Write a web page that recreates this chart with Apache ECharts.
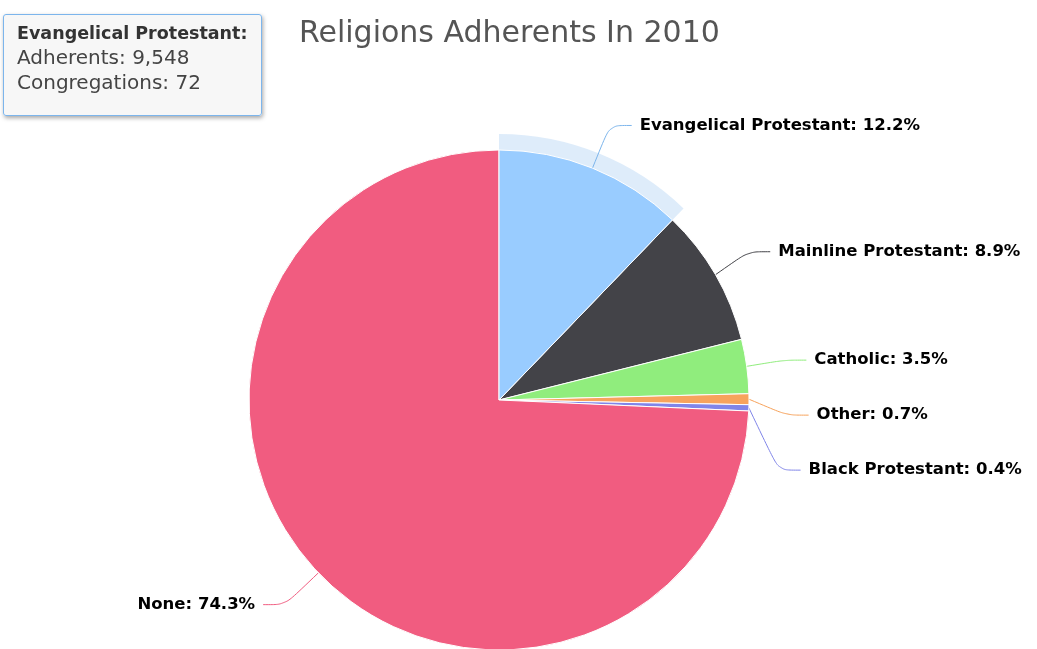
<!DOCTYPE html>
<html>
<head>
<meta charset="utf-8">
<title>Religions Adherents In 2010</title>
<script src="https://cdn.jsdelivr.net/npm/echarts@6/dist/echarts.min.js"></script>
<style>
  html, body { margin: 0; padding: 0; background: #ffffff; }
  #chart { width: 1037px; height: 649px; }
</style>
</head>
<body>
<div id="chart"></div>
<script>
// Share of adherents by religious tradition, 2010 (percent)
const categories = ['Evangelical Protestant', 'Mainline Protestant', 'Catholic', 'Other', 'Black Protestant', 'None'];
const shares = [12.2, 8.9, 3.5, 0.7, 0.4, 74.3];
const adherents = [9548, null, null, null, null, null];
const congregations = [72, null, null, null, null, null];
const colors = ['#7cb5ec', '#434348', '#90ed7d', '#f7a35c', '#8085e9', '#f15c80'];
const hoverColor = '#99ccff';
const activeIndex = 0;

const FONT = '"DejaVu Sans", Verdana, sans-serif';

const chart = echarts.init(document.getElementById('chart'), null, { renderer: 'canvas' });

const center = [499, 400];
const radius = 250;

const pieData = categories.map((name, i) => {
  const item = {
    name: name,
    value: shares[i],
    itemStyle: { color: colors[i] }
  };
  if (i === activeIndex) {
    item.emphasis = { itemStyle: { color: hoverColor } };
  }
  return item;
});

// translucent ring drawn behind the active slice
const haloData = categories.map((name, i) => ({
  name: name,
  value: shares[i],
  itemStyle: { color: i === activeIndex ? 'rgba(124,181,236,0.25)' : 'rgba(0,0,0,0)' }
}));

function fmt(n) {
  return n.toLocaleString('en-US');
}

chart.setOption({
  animation: false,
  backgroundColor: '#ffffff',
  title: {
    text: 'Religions Adherents In 2010',
    left: 294,
    top: 14,
    textStyle: {
      fontFamily: FONT,
      fontSize: 30,
      fontWeight: 'normal',
      color: '#555555'
    }
  },
  tooltip: {
    trigger: 'item',
    triggerOn: 'none',
    alwaysShowContent: true,
    transitionDuration: 0,
    position: [3, 14],
    backgroundColor: 'rgba(247,247,247,0.95)',
    borderColor: '#7cb5ec',
    borderWidth: 1,
    borderRadius: 3,
    padding: [7, 14, 20, 13],
    extraCssText: 'box-shadow: 1px 2px 4px rgba(0,0,0,0.35);',
    textStyle: { fontFamily: FONT, fontSize: 20, color: '#333333' },
    formatter: function (p) {
      const i = p.dataIndex;
      const head = '<div style="font-family:' + FONT.replace(/"/g, "'") + ';font-size:17.5px;font-weight:bold;line-height:23px;color:#333">' + p.name + ':</div>';
      const body = [];
      if (adherents[i] != null) body.push('Adherents: ' + fmt(adherents[i]));
      if (congregations[i] != null) body.push('Congregations: ' + fmt(congregations[i]));
      return head + '<div style="font-family:' + FONT.replace(/"/g, "'") + ';font-size:20px;line-height:25px;color:#444">' + body.join('<br>') + '</div>';
    }
  },
  series: [
    {
      type: 'pie',
      name: 'halo',
      silent: true,
      z: 1,
      center: center,
      radius: [radius, radius + 16],
      startAngle: 90,
      clockwise: true,
      label: { show: false },
      labelLine: { show: false },
      tooltip: { show: false },
      data: haloData
    },
    {
      type: 'pie',
      name: 'Religions',
      z: 2,
      center: center,
      radius: radius,
      startAngle: 90,
      clockwise: true,
      percentPrecision: 1,
      avoidLabelOverlap: true,
      itemStyle: { borderColor: '#ffffff', borderWidth: 1 },
      emphasis: { scale: false, label: { show: true } },
      label: {
        show: true,
        formatter: '{b}: {d}%',
        fontFamily: FONT,
        fontSize: 16.5,
        fontWeight: 'bold',
        color: '#000000',
        distanceToLabelLine: 8,
        minMargin: 38
      },
      labelLine: {
        show: true,
        length: 46,
        length2: 22,
        smooth: 0.3,
        lineStyle: { width: 1 }
      },
      data: pieData
    }
  ]
});

chart.dispatchAction({ type: 'highlight', seriesIndex: 1, dataIndex: activeIndex });
chart.dispatchAction({ type: 'showTip', seriesIndex: 1, dataIndex: activeIndex });
</script>
</body>
</html>
